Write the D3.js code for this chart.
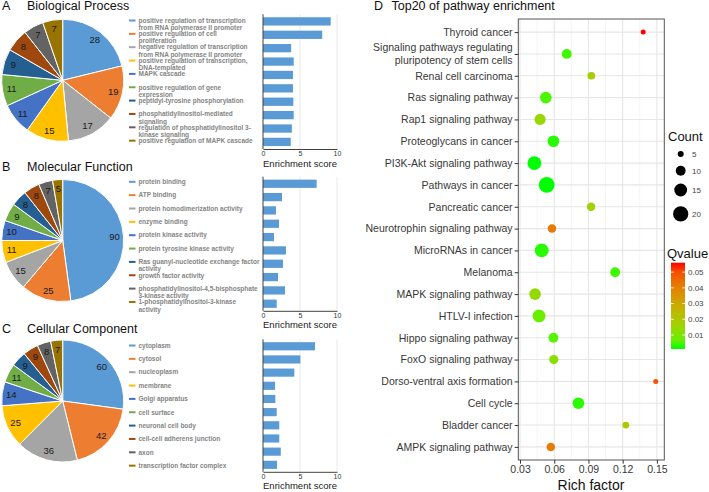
<!DOCTYPE html>
<html><head><meta charset="utf-8">
<script src="https://cdn.jsdelivr.net/npm/d3@7"></script>
<style>body{margin:0;background:#fff} svg{display:block;font-family:"Liberation Sans",Arial,sans-serif}</style>
</head><body><svg id="c" width="709" height="492"></svg>
<script>
// ---------- DATA ----------
const bpTerms = ["positive regulation of transcription\nfrom RNA polymerase II promoter","positive regulation of cell\nproliferation","negative regulation of transcription\nfrom RNA polymerase II promoter","positive regulation of transcription,\nDNA-templated","MAPK cascade","positive regulation of gene\nexpression","peptidyl-tyrosine phosphorylation","phosphatidylinositol-mediated\nsignaling","regulation of phosphatidylinositol 3-\nkinase signaling","positive regulation of MAPK cascade"];
const bpCounts = [28,19,17,15,11,11,9,8,7,7];
const bpScores = [9.15,8.0,3.8,4.15,4.05,4.05,4.1,4.15,3.9,3.75];

const mfTerms = ["protein binding","ATP binding","protein homodimerization activity","enzyme binding","protein kinase activity","protein tyrosine kinase activity","Ras guanyl-nucleotide exchange factor\nactivity","growth factor activity","phosphatidylinositol-4,5-bisphosphate\n3-kinase activity","1-phosphatidylinositol-3-kinase\nactivity"];
const mfCounts = [90,25,15,11,10,9,8,8,7,5];
const mfScores = [7.25,2.57,1.76,2.16,1.49,3.1,2.7,2.03,2.97,1.85];

const ccTerms = ["cytoplasm","cytosol","nucleoplasm","membrane","Golgi apparatus","cell surface","neuronal cell body","cell-cell adherens junction","axon","transcription factor complex"];
const ccCounts = [60,42,36,25,14,11,9,9,8,7];
const ccScores = [7.03,5.05,4.23,1.62,1.67,1.85,2.2,2.2,2.4,1.9];
const scoreTicks = [0,5,10];

const pathways = ["Thyroid cancer","Signaling pathways regulating\npluripotency of stem cells","Renal cell carcinoma","Ras signaling pathway","Rap1 signaling pathway","Proteoglycans in cancer","PI3K-Akt signaling pathway","Pathways in cancer","Pancreatic cancer","Neurotrophin signaling pathway","MicroRNAs in cancer","Melanoma","MAPK signaling pathway","HTLV-I infection","Hippo signaling pathway","FoxO signaling pathway","Dorso-ventral axis formation","Cell cycle","Bladder cancer","AMPK signaling pathway"];
const richFactor = [0.138,0.071,0.0925,0.0526,0.0476,0.0593,0.0426,0.0534,0.0923,0.058,0.049,0.1134,0.0432,0.0467,0.0593,0.0596,0.149,0.0812,0.1228,0.057];
const geneCount = [4,10,7,13,12,13,17,21,8,8,17,10,13,15,10,9,4,13,6,8];
const qValue = [0.056,0.003,0.018,0.004,0.015,0.002,0.0011,0.0011,0.017,0.042,0.002,0.003,0.014,0.007,0.005,0.012,0.049,0.002,0.02,0.041];
const richTicks = [0.03,0.06,0.09,0.12,0.15];
const richMinor = [0.045,0.075,0.105,0.135];
const sizeBreaks = [5,10,15,20];
const qBreaks = [0.01,0.02,0.03,0.04,0.05];

// ---------- DRAW ----------
const svg = d3.select("#c");
const sliceColors = ["#5B9BD5","#ED7D31","#A5A5A5","#FFC000","#4472C4","#70AD47","#255E91","#9E480E","#636363","#997300"];
const panels = [
  {letter:"A", name:"Biological Process", terms:bpTerms, counts:bpCounts, scores:bpScores, titleY:9.5, pieY:80.3, legY:20.5, barTop:14.3, barBot:149},
  {letter:"B", name:"Molecular Function", terms:mfTerms, counts:mfCounts, scores:mfScores, titleY:170.5, pieY:240.5, legY:181.8, barTop:176.7, barBot:310.8},
  {letter:"C", name:"Cellular Component", terms:ccTerms, counts:ccCounts, scores:ccScores, titleY:333, pieY:401, legY:345.5, barTop:339.3, barBot:471.8}
];
const R = 61;
const pie = d3.pie().sort(null).value(d => d);
const arc = d3.arc().innerRadius(0).outerRadius(R);
const labelArc = d3.arc().innerRadius(R*0.85).outerRadius(R*0.85);
const xs = d3.scaleLinear().domain([0,10]).range([263,337]);

panels.forEach(p => {
  const g = svg.append("g");
  g.append("text").attr("x",2).attr("y",p.titleY).attr("font-size",12.5).attr("fill","#111").text(p.letter);
  g.append("text").attr("x",27).attr("y",p.titleY).attr("font-size",12.5).attr("fill","#111").text(p.name);

  const pg = g.append("g").attr("transform",`translate(62.7,${p.pieY})`);
  const arcs = pie(p.counts);
  pg.selectAll("path").data(arcs).join("path")
    .attr("d",arc).attr("fill",(d,i)=>sliceColors[i]).attr("stroke","#fff").attr("stroke-width",1);
  pg.selectAll("text").data(arcs).join("text")
    .attr("transform",d=>`translate(${labelArc.centroid(d)})`)
    .attr("text-anchor","middle").attr("dy","0.35em")
    .attr("font-size",9.5).attr("fill","#1a1a1a").text(d=>d.data);

  const lg = g.append("g");
  p.terms.forEach((t,i) => {
    const y = p.legY + i*13.35;
    lg.append("line").attr("x1",129).attr("x2",135.5).attr("y1",y).attr("y2",y)
      .attr("stroke",sliceColors[i]).attr("stroke-width",2);
    const tx = lg.append("text").attr("x",138.5).attr("y",y)
      .attr("font-size",6.5).attr("font-weight","bold").attr("fill","#858585");
    t.split("\n").forEach((line,j) => tx.append("tspan").attr("x",138.5)
      .attr("dy", j===0 ? "0.35em" : 7.3).text(line));
  });

  const ys = d3.scaleBand().domain(d3.range(p.scores.length)).range([p.barTop,p.barBot])
    .paddingInner(0.38).paddingOuter(0.22);
  g.selectAll(null).data([5,10]).join("line")
    .attr("x1",d=>xs(d)).attr("x2",d=>xs(d)).attr("y1",p.barTop).attr("y2",p.barBot)
    .attr("stroke","#e3e3e3").attr("stroke-width",0.8);
  g.selectAll(null).data(p.scores).join("rect")
    .attr("x",xs(0)).attr("y",(d,i)=>ys(i)).attr("width",d=>xs(d)-xs(0)).attr("height",ys.bandwidth())
    .attr("fill","#5B9BD5");
  g.append("line").attr("x1",xs(0)).attr("x2",xs(0)).attr("y1",p.barTop).attr("y2",p.barBot)
    .attr("stroke","#404040").attr("stroke-width",1);
  const ax = g.append("g").attr("transform",`translate(0,${p.barBot})`)
    .call(d3.axisBottom(xs).tickValues(scoreTicks).tickSize(0).tickSizeOuter(0).tickPadding(2.5));
  ax.attr("font-family",null).attr("font-size",null);
  ax.select(".domain").attr("stroke","#404040");
  ax.selectAll("text").attr("font-size",7).attr("fill","#333");
  g.append("text").attr("x",300).attr("y",p.barBot+17.5).attr("text-anchor","middle")
    .attr("font-size",9.5).attr("fill","#222").text("Enrichment score");
});

// ---------- PANEL D ----------
const X0=518.3, X1=664.3, Y0=19, Y1=460;
const x = d3.scaleLinear().domain([0.0285,0.1565]).range([X0,X1]);
const y = d3.scalePoint().domain(pathways).range([Y0,Y1]).padding(0.6);
const rs = d3.scalePow().exponent(0.5).domain([5,20]).range([3,7.65]);
const [qmin,qmax] = d3.extent(qValue);
const col = d3.scaleLinear().domain([qmin,qmax]).range(["#00ff00","#ff0000"]).interpolate(d3.interpolateLab);

svg.append("text").attr("x",374).attr("y",10).attr("font-size",12.5).attr("fill","#111").text("D");
svg.append("text").attr("x",391.5).attr("y",10).attr("font-size",12.5).attr("fill","#111").text("Top20 of pathway enrichment");

const dg = svg.append("g");
dg.selectAll(null).data(richMinor).join("line")
  .attr("x1",d=>x(d)).attr("x2",d=>x(d)).attr("y1",Y0).attr("y2",Y1)
  .attr("stroke","#ececec").attr("stroke-width",0.6);
dg.selectAll(null).data(richTicks).join("line")
  .attr("x1",d=>x(d)).attr("x2",d=>x(d)).attr("y1",Y0).attr("y2",Y1)
  .attr("stroke","#e6e6e6").attr("stroke-width",1.1);
dg.selectAll(null).data(pathways).join("line")
  .attr("x1",X0).attr("x2",X1).attr("y1",d=>y(d)).attr("y2",d=>y(d))
  .attr("stroke","#e6e6e6").attr("stroke-width",1.1);

const pts = pathways.map((p,i)=>({p, rf:richFactor[i], n:geneCount[i], q:qValue[i]}));
dg.selectAll("circle").data(pts).join("circle")
  .attr("cx",d=>x(d.rf)).attr("cy",d=>y(d.p)).attr("r",d=>rs(d.n)).attr("fill",d=>col(d.q));

dg.append("rect").attr("x",X0).attr("y",Y0).attr("width",X1-X0).attr("height",Y1-Y0)
  .attr("fill","none").attr("stroke","#555").attr("stroke-width",1);

const ya = dg.append("g").attr("transform",`translate(${X0},0)`)
  .call(d3.axisLeft(y).tickSize(3.7).tickPadding(2).tickSizeOuter(0));
ya.attr("font-family",null).attr("font-size",null);
ya.select(".domain").remove();
ya.selectAll("line").attr("stroke","#333");
ya.selectAll("text").attr("font-size",10.5).attr("fill","#383838").each(function(d){
  const lines = d.split("\n");
  if (lines.length > 1) {
    const t = d3.select(this), tx = t.attr("x");
    t.text(null).attr("dy",null);
    lines.forEach((l,i)=> t.append("tspan").attr("x",tx)
      .attr("dy", i===0 ? `${0.32-(lines.length-1)*0.6}em` : "1.2em").text(l));
  }
});
const xa = dg.append("g").attr("transform",`translate(0,${Y1})`)
  .call(d3.axisBottom(x).tickValues(richTicks).tickFormat(d3.format(".2f")).tickSize(3.7).tickPadding(2).tickSizeOuter(0));
xa.attr("font-family",null).attr("font-size",null);
xa.select(".domain").remove();
xa.selectAll("line").attr("stroke","#333");
xa.selectAll("text").attr("font-size",10.5).attr("fill","#383838");
svg.append("text").attr("x",591).attr("y",490).attr("text-anchor","middle")
  .attr("font-size",14).attr("fill","#111").text("Rich factor");

// size legend
svg.append("text").attr("x",668).attr("y",141).attr("font-size",13).attr("fill","#111").text("Count");
let cy = 154, prevH = null;
sizeBreaks.forEach(b => {
  const h = Math.max(16.7, rs(b)*3.4);
  if (prevH !== null) cy += (prevH + h)/2;
  prevH = h;
  svg.append("circle").attr("cx",680.7).attr("cy",cy).attr("r",rs(b)).attr("fill","#000");
  svg.append("text").attr("x",692).attr("y",cy).attr("dy","0.35em").attr("font-size",8).attr("fill","#444").text(b);
});

// colour legend
svg.append("text").attr("x",667).attr("y",258).attr("font-size",13).attr("fill","#111").text("Qvalue");
const cbTop=262.7, cbBot=349, cbX=671, cbW=14;
const cbs = d3.scaleLinear().domain([qmin,qmax]).range([cbBot,cbTop]);
const grad = svg.append("defs").append("linearGradient").attr("id","qg")
  .attr("x1",0).attr("y1",1).attr("x2",0).attr("y2",0);
d3.range(0,1.0001,0.1).forEach(t => grad.append("stop").attr("offset",t)
  .attr("stop-color", col(qmin + t*(qmax-qmin))));
svg.append("rect").attr("x",cbX).attr("y",cbTop).attr("width",cbW).attr("height",cbBot-cbTop).attr("fill","url(#qg)");
qBreaks.forEach(b => {
  const yy = cbs(b);
  svg.append("line").attr("x1",cbX).attr("x2",cbX+2.8).attr("y1",yy).attr("y2",yy).attr("stroke","#fff").attr("stroke-width",0.8);
  svg.append("line").attr("x1",cbX+cbW-2.8).attr("x2",cbX+cbW).attr("y1",yy).attr("y2",yy).attr("stroke","#fff").attr("stroke-width",0.8);
  svg.append("text").attr("x",688).attr("y",yy).attr("dy","0.35em").attr("font-size",8).attr("fill","#444").text(b.toFixed(2));
});
</script></body></html>
